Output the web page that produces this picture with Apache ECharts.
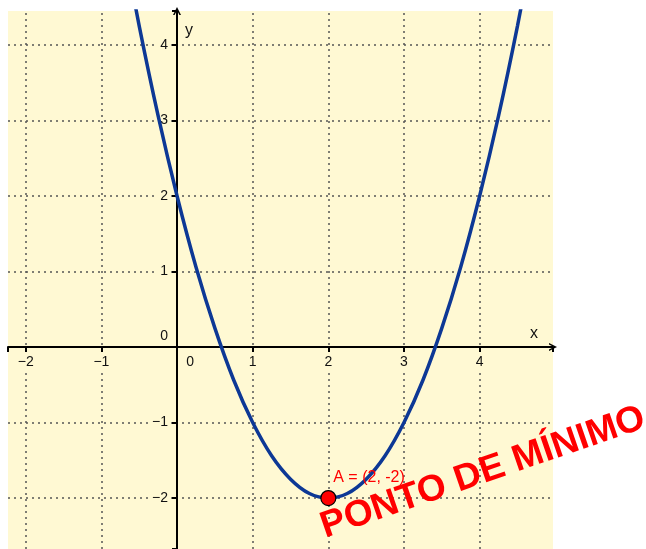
<!DOCTYPE html>
<html>
<head>
<meta charset="utf-8">
<script src="https://cdn.jsdelivr.net/npm/echarts@6/dist/echarts.min.js"></script>
<style>
html, body { margin: 0; padding: 0; background: #fff; }
#chart { width: 646px; height: 549px; }
</style>
</head>
<body>
<div id="chart"></div>
<script>
const curveX = [-0.75, -0.5, -0.25, 0, 0.25, 0.5, 0.75, 1, 1.25, 1.5, 1.75, 2,
                2.25, 2.5, 2.75, 3, 3.25, 3.5, 3.75, 4, 4.25, 4.5, 4.75];
const curveY = [5.56, 4.25, 3.06, 2, 1.06, 0.25, -0.44, -1, -1.44, -1.75, -1.94, -2,
                -1.94, -1.75, -1.44, -1, -0.44, 0.25, 1.06, 2, 3.06, 4.25, 5.56];
// ponto de mínimo
const pointA = [2, -2];
const pointLabel = 'A = (2, -2)';
// linhas da malha
const gridX = [-2, -1, 1, 2, 3, 4];
const gridY = [-2, -1, 1, 2, 3, 4];
const titleText = 'PONTO DE MÍNIMO';

const bg = '#fff9d3';
const fontName = '"Liberation Sans", Arial, sans-serif';

const chart = echarts.init(document.getElementById('chart'));

function tickFmt(v) {
    if (Math.abs(v - Math.round(v)) > 1e-6) return '';
    if (v === 0) return '{z|0}';
    return '{n|' + String(v).replace('-', '\u2212') + '}';
}

const gridLines = [];
gridX.forEach(v => gridLines.push({ xAxis: v }));
gridY.forEach(v => gridLines.push({ yAxis: v }));

// seta aberta nas pontas dos eixos
const chevron = 'path://M0,10 L5,0 L10,10 L8,10 L5,4 L2,10 Z';

const option = {
    animation: false,
    backgroundColor: '#fff',
    grid: {
        left: 8, right: 93, top: 11, bottom: 0,
        show: true, backgroundColor: bg, borderWidth: 0,
        outerBoundsMode: 'none'
    },
    xAxis: {
        type: 'value',
        min: -2.235, max: 4.97,
        minInterval: 1, maxInterval: 1,
        position: 'bottom',
        offset: -202,   // eixo passa por y = 0
        z: 3,
        axisLine: {
            onZero: false,
            lineStyle: { color: '#000', width: 2 },
            symbol: ['none', chevron],
            symbolSize: [11, 8]
        },
        axisTick: { show: true, length: 5, lineStyle: { color: '#000', width: 2 } },
        splitLine: { show: false },
        axisLabel: {
            margin: 7,
            formatter: tickFmt,
            color: '#111',
            fontSize: 14,
            fontFamily: fontName,
            rich: {
                n: { fontSize: 14, fontFamily: fontName, color: '#111', backgroundColor: bg, padding: [1, 4, 1, 4] },
                z: { fontSize: 14, fontFamily: fontName, color: '#111', padding: [1, 0, 1, 26] }
            }
        }
    },
    yAxis: {
        type: 'value',
        min: -2.675, max: 4.45,
        minInterval: 1, maxInterval: 1,
        position: 'left',
        offset: -169,   // eixo passa por x = 0
        z: 3,
        axisLine: {
            onZero: false,
            lineStyle: { color: '#000', width: 2 },
            symbol: ['none', chevron],
            symbolSize: [11, 8]
        },
        axisTick: { show: true, length: 5, lineStyle: { color: '#000', width: 2 } },
        splitLine: { show: false },
        axisLabel: {
            margin: 6,
            formatter: tickFmt,
            color: '#111',
            fontSize: 14,
            fontFamily: fontName,
            rich: {
                n: { fontSize: 14, fontFamily: fontName, color: '#111', backgroundColor: bg, padding: [1, 3, 1, 4] },
                z: { fontSize: 14, fontFamily: fontName, color: '#111', padding: [0, 3, 22, 0] }
            }
        }
    },
    graphic: [
        {
            type: 'text', x: 534, y: 334, z: 10,
            style: { text: 'x', font: '16px ' + fontName, fill: '#111',
                     align: 'center', verticalAlign: 'middle',
                     textAlign: 'center', textVerticalAlign: 'middle' }
        },
        {
            type: 'text', x: 189, y: 31, z: 10,
            style: { text: 'y', font: '16px ' + fontName, fill: '#111',
                     align: 'center', verticalAlign: 'middle',
                     textAlign: 'center', textVerticalAlign: 'middle' }
        },
        {
            type: 'text', x: 322, y: 528, z: 20,
            rotation: 19 * Math.PI / 180,
            style: { text: titleText, font: 'bold 37px ' + fontName, fill: '#ff0000',
                     align: 'left', verticalAlign: 'middle',
                     textAlign: 'left', textVerticalAlign: 'middle' }
        }
    ],
    series: [
        {
            // malha pontilhada
            type: 'line',
            data: [],
            z: 1,
            silent: true,
            markLine: {
                z: 1,
                silent: true,
                symbol: 'none',
                label: { show: false },
                lineStyle: { color: '#555', width: 1.5, type: [2, 4] },
                data: gridLines
            }
        },
        {
            type: 'line',
            data: curveX.map((x, i) => [x, curveY[i]]),
            smooth: 0.3,
            showSymbol: false,
            z: 5,
            lineStyle: { color: '#0d3895', width: 3.5 },
            clip: true
        },
        {
            type: 'scatter',
            data: [pointA],
            z: 6,
            symbolSize: 15,
            itemStyle: { color: '#ff0000', borderColor: '#000', borderWidth: 1.2, opacity: 1 },
            label: {
                show: true,
                formatter: pointLabel,
                position: [13, -20],
                color: '#ff0000',
                fontSize: 16,
                fontFamily: fontName
            }
        }
    ]
};

chart.setOption(option);
</script>
</body>
</html>
